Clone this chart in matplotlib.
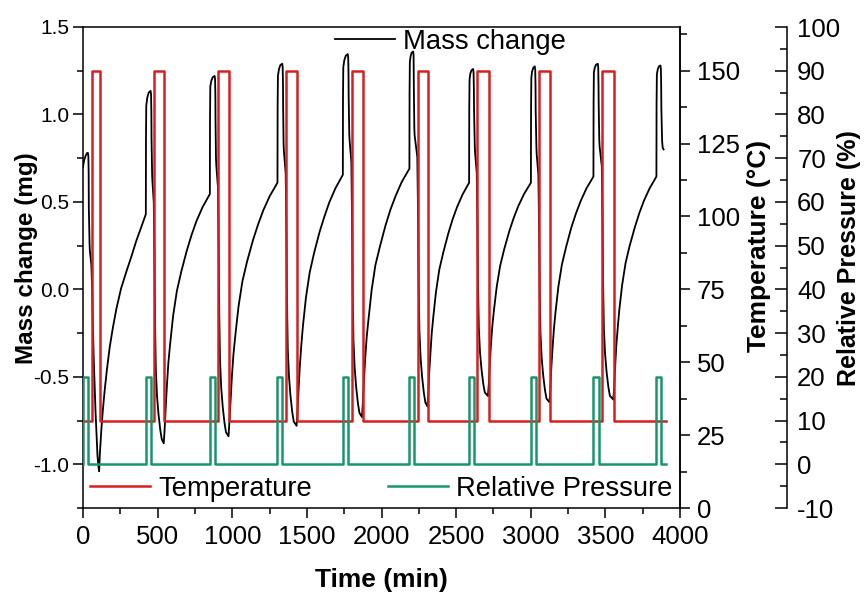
import matplotlib
matplotlib.use("Agg")
import matplotlib.pyplot as plt
from matplotlib.lines import Line2D
from matplotlib.ticker import MultipleLocator

plt.rcParams["font.family"] = ["Liberation Sans", "DejaVu Sans"]
plt.rcParams["axes.unicode_minus"] = False

# Mass change (mg) vs time (min)
mass_time = [
    # cycle 1
    0, 8, 18, 28, 33, 36, 38, 39, 44, 46,
    56, 61, 66, 72, 78, 84, 90, 97, 103, 108,
    113, 123, 134, 145, 160, 179, 200, 224, 255, 290, 325, 358, 390, 421,
    # cycle 2
    422, 424, 431, 440, 453, 456, 458, 459, 463, 465,
    474, 479, 483, 488, 496, 506, 518, 528, 541,
    547, 555, 563, 572, 584, 604, 629, 658, 695, 727, 760, 801, 850,
    # cycle 3
    851, 853, 860, 869, 882, 885, 887, 888, 891, 893,
    904, 909, 913, 918, 926, 936, 948, 958, 975,
    981, 990, 998, 1008, 1021, 1042, 1068, 1099, 1138, 1173, 1208, 1251, 1303,
    # cycle 4
    1304, 1306, 1313, 1322, 1335, 1338, 1340, 1341, 1344, 1346,
    1358, 1363, 1367, 1372, 1380, 1390, 1402, 1412, 1431,
    1437, 1445, 1453, 1463, 1474, 1494, 1519, 1548, 1585, 1618, 1651, 1692, 1741,
    # cycle 5
    1742, 1744, 1751, 1761, 1774, 1777, 1779, 1780, 1784, 1786,
    1798, 1803, 1807, 1812, 1820, 1830, 1842, 1852, 1869,
    1875, 1883, 1891, 1901, 1914, 1934, 1959, 1990, 2027, 2060, 2095, 2136, 2187,
    # cycle 6
    2188, 2190, 2195, 2202, 2212, 2215, 2216, 2217, 2220, 2222,
    2240, 2245, 2249, 2254, 2262, 2272, 2284, 2294, 2308,
    2313, 2320, 2328, 2336, 2347, 2365, 2387, 2414, 2447, 2476, 2506, 2543, 2587,
    # cycle 7
    2588, 2590, 2595, 2603, 2614, 2617, 2619, 2620, 2625, 2627,
    2638, 2643, 2647, 2652, 2660, 2670, 2682, 2692, 2713,
    2719, 2726, 2733, 2742, 2753, 2772, 2795, 2822, 2856, 2886, 2917, 2955, 3001,
    # cycle 8
    3002, 3004, 3009, 3017, 3027, 3030, 3032, 3033, 3038, 3040,
    3051, 3056, 3060, 3065, 3073, 3083, 3095, 3105, 3125,
    3131, 3138, 3146, 3155, 3166, 3185, 3209, 3237, 3271, 3302, 3334, 3373, 3420,
    # cycle 9
    3421, 3423, 3429, 3437, 3449, 3452, 3454, 3455, 3459, 3461,
    3476, 3481, 3485, 3490, 3498, 3508, 3520, 3530, 3553,
    3559, 3566, 3573, 3583, 3593, 3612, 3635, 3662, 3697, 3727, 3758, 3796, 3842,
    # cycle 10
    3843, 3845, 3851, 3858, 3869, 3872, 3874, 3875, 3880, 3884, 3890,
]
mass_mg = [
    # cycle 1
    0.70, 0.74, 0.765, 0.78, 0.78, 0.76, 0.66, 0.47, 0.26, 0.22,
    0.14, 0.00, -0.20, -0.40, -0.55, -0.70, -0.82, -0.95, -1.01, -1.04,
    -0.94, -0.80, -0.68, -0.58, -0.46, -0.33, -0.22, -0.11, 0.005, 0.10, 0.19, 0.28, 0.355, 0.43,
    # cycle 2
    0.86, 1.05, 1.097, 1.125, 1.135, 1.115, 1.015, 0.87, 0.66, 0.62,
    0.50, 0.17, -0.205, -0.46, -0.61, -0.715, -0.805, -0.858, -0.88,
    -0.80, -0.661, -0.539, -0.42, -0.31, -0.15, -0.009, 0.10, 0.22, 0.31, 0.39, 0.47, 0.545,
    # cycle 3
    0.975, 1.16, 1.193, 1.213, 1.22, 1.20, 1.10, 0.96, 0.75, 0.71,
    0.586, 0.245, -0.143, -0.406, -0.561, -0.67, -0.763, -0.817, -0.84,
    -0.759, -0.617, -0.493, -0.372, -0.26, -0.098, 0.046, 0.158, 0.279, 0.371, 0.452, 0.533, 0.61,
    # cycle 4
    1.037, 1.22, 1.259, 1.282, 1.29, 1.27, 1.17, 1.04, 0.83, 0.79,
    0.664, 0.319, -0.074, -0.34, -0.497, -0.607, -0.702, -0.756, -0.78,
    -0.70, -0.559, -0.437, -0.316, -0.206, -0.045, 0.097, 0.207, 0.328, 0.418, 0.499, 0.579, 0.655,
    # cycle 5
    1.086, 1.27, 1.311, 1.336, 1.345, 1.325, 1.225, 1.105, 0.895, 0.855,
    0.728, 0.379, -0.017, -0.286, -0.445, -0.556, -0.651, -0.706, -0.73,
    -0.65, -0.511, -0.391, -0.271, -0.162, -0.003, 0.138, 0.247, 0.366, 0.456, 0.535, 0.615, 0.69,
    # cycle 6
    1.117, 1.30, 1.333, 1.353, 1.36, 1.34, 1.24, 1.13, 0.92, 0.88,
    0.756, 0.415, 0.027, -0.236, -0.391, -0.50, -0.593, -0.647, -0.67,
    -0.598, -0.473, -0.364, -0.257, -0.158, -0.015, 0.112, 0.211, 0.318, 0.399, 0.47, 0.542, 0.61,
    # cycle 7
    1.023, 1.20, 1.233, 1.253, 1.26, 1.24, 1.14, 1.03, 0.82, 0.78,
    0.669, 0.363, 0.015, -0.22, -0.36, -0.457, -0.541, -0.589, -0.61,
    -0.542, -0.422, -0.318, -0.216, -0.122, 0.015, 0.135, 0.229, 0.332, 0.409, 0.477, 0.545, 0.61,
    # cycle 8
    1.03, 1.21, 1.246, 1.267, 1.275, 1.255, 1.155, 1.02, 0.81, 0.77,
    0.657, 0.345, -0.008, -0.249, -0.39, -0.489, -0.574, -0.624, -0.645,
    -0.573, -0.446, -0.337, -0.228, -0.129, 0.015, 0.143, 0.243, 0.351, 0.432, 0.504, 0.577, 0.645,
    # cycle 9
    1.062, 1.24, 1.268, 1.284, 1.29, 1.27, 1.17, 1.07, 0.86, 0.82,
    0.704, 0.385, 0.022, -0.224, -0.369, -0.471, -0.558, -0.608, -0.63,
    -0.559, -0.434, -0.325, -0.218, -0.12, 0.023, 0.149, 0.247, 0.354, 0.435, 0.506, 0.577, 0.645,
    # cycle 10
    1.055, 1.23, 1.258, 1.274, 1.28, 1.26, 1.16, 1.04, 0.85, 0.81, 0.80,
]

# Temperature program (deg C): switched between 30 and 150
temp_on = [58, 476, 906, 1360, 1800, 2242, 2640, 3053, 3478]
temp_off = [113, 545, 979, 1435, 1873, 2312, 2717, 3129, 3557]
temp_levels = [30, 150]

# Relative pressure program (%): switched between 0 and 20
rh_on = [0, 421, 850, 1303, 1741, 2187, 2587, 3001, 3420, 3842]
rh_off = [35, 457, 884, 1336, 1775, 2217, 2620, 3035, 3454, 3875]
rh_levels = [0, 20]

t_end = 3905


def step_series(on, off, low, high, end):
    """Rectangular program line from switch-on/off times."""
    t, y = [0], [low]
    for a, b in zip(on, off):
        t += [a, a, b, b]
        y += [low, high, high, low]
    t.append(end)
    y.append(low)
    return t, y


RED = "#d81e1e"
GREEN = "#16976a"

fig = plt.figure(figsize=(8.65, 5.94), dpi=100)
ax = fig.add_axes([83 / 865, 86 / 594, 597 / 865, 481 / 594])
ax2 = ax.twinx()
ax3 = ax.twinx()

ax.plot(mass_time, mass_mg, color="black", lw=1.3)
tt, ty = step_series(temp_on, temp_off, *temp_levels, t_end)
ax2.plot(tt, ty, color=RED, lw=1.8)
rt, ry = step_series(rh_on, rh_off, *rh_levels, t_end)
ax3.plot(rt, ry, color=GREEN, lw=1.8)

ax.set_xlim(0, 4000)
ax.set_ylim(-1.25, 1.5)
ax2.set_ylim(0, 165)
ax3.set_ylim(-10, 100)

ax.xaxis.set_major_locator(MultipleLocator(500))
ax.xaxis.set_minor_locator(MultipleLocator(250))
ax.yaxis.set_major_locator(MultipleLocator(0.5))
ax.yaxis.set_minor_locator(MultipleLocator(0.25))
ax2.yaxis.set_major_locator(MultipleLocator(25))
ax2.yaxis.set_minor_locator(MultipleLocator(12.5))
ax3.yaxis.set_major_locator(MultipleLocator(10))
ax3.yaxis.set_minor_locator(MultipleLocator(5))

for s in ax.spines.values():
    s.set_linewidth(1.1)
for name in ["left", "top", "bottom"]:
    ax2.spines[name].set_visible(False)
    ax3.spines[name].set_visible(False)
ax2.spines["right"].set_linewidth(1.1)
ax3.spines["right"].set_linewidth(1.1)
ax3.spines["right"].set_position(("axes", 1.18))

ax.tick_params(axis="x", which="both", direction="out", top=False, width=1.1,
               labelsize=18.5, pad=5)
ax.tick_params(axis="x", which="major", length=7)
ax.tick_params(axis="x", which="minor", length=4)
ax.tick_params(axis="y", which="both", direction="out", right=False, width=1.1,
               labelsize=15, pad=3)
ax.tick_params(axis="y", which="major", length=7)
ax.tick_params(axis="y", which="minor", length=4)
ax2.tick_params(axis="y", which="both", direction="out", width=1.1,
                labelsize=18.5, pad=5)
ax2.tick_params(axis="y", which="major", length=7)
ax2.tick_params(axis="y", which="minor", length=5)
ax3.tick_params(axis="y", which="both", direction="in", width=1.1,
                labelsize=18.5, pad=7)
ax3.tick_params(axis="y", which="major", length=9)
ax3.tick_params(axis="y", which="minor", length=5)

ax.set_xlabel("Time (min)", fontsize=19, fontweight="bold")
ax.xaxis.set_label_coords(0.5, -0.125)
ax.set_ylabel("Mass change (mg)", fontsize=17.5, fontweight="bold")
ax.yaxis.set_label_coords(-0.076, 0.52)
ax2.set_ylabel("Temperature (\u00b0C)", fontsize=19, fontweight="bold")
ax2.yaxis.set_label_coords(1.112, 0.545)
ax3.set_ylabel("Relative Pressure (%)", fontsize=18, fontweight="bold")
ax3.yaxis.set_label_coords(1.263, 0.52)

leg_kw = dict(frameon=False, fontsize=19.7, handlelength=2.2, handletextpad=0.3,
              borderpad=0, borderaxespad=0, loc="center left")
ax.legend(handles=[Line2D([], [], color="black", lw=1.3)], labels=["Mass change"],
          bbox_to_anchor=(0.422, 0.969), **leg_kw)
ax2.legend(handles=[Line2D([], [], color=RED, lw=1.8)], labels=["Temperature"],
           bbox_to_anchor=(0.012, 0.04), **leg_kw)
ax3.legend(handles=[Line2D([], [], color=GREEN, lw=1.8)], labels=["Relative Pressure"],
           bbox_to_anchor=(0.511, 0.04), **leg_kw)

fig.savefig("out.png", dpi=100)
